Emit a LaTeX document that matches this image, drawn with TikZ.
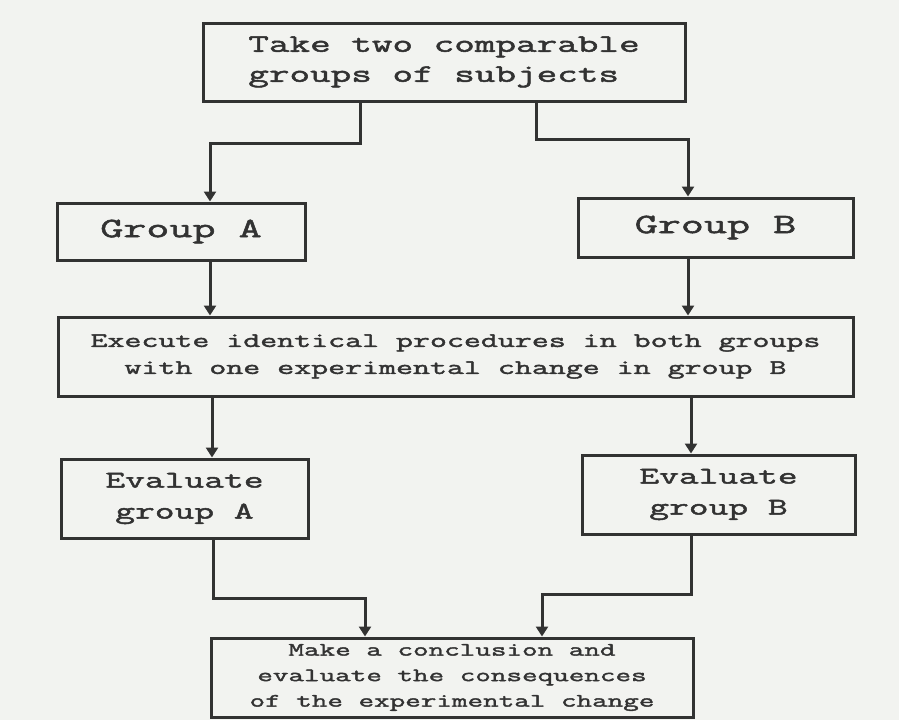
\documentclass[tikz,border=0pt]{standalone}
\usepackage{fontspec}
\usepackage{xcolor}
\usepackage{tikz}
\usetikzlibrary{positioning, arrows.meta, calc}
\newfontfamily\typefont[FakeStretch=1.6, FakeBold=2]{Latin Modern Mono}
\newcommand{\boxfont}[2]{\typefont\fontsize{#1}{#2}\selectfont}
\definecolor{paper}{RGB}{242,243,240}
\definecolor{ink}{RGB}{50,50,50}

\begin{document}
\begin{tikzpicture}[
    x=1pt, y=-1pt,
    flowbox/.style={draw=ink, line width=3pt, rectangle, inner sep=0pt, align=center, text=ink},
    flowarrow/.style={draw=ink, line width=3pt, -{Triangle[width=12pt, length=10pt]}}
]
\useasboundingbox[fill=paper] (0,0) rectangle (899,720);

% Start
\node[flowbox, align=left, minimum width=482pt, minimum height=78pt, font=\boxfont{25}{30}] (Take) at (444,62) {Take two comparable\\groups of subjects};

% Groups
\node[flowbox, minimum width=248pt, minimum height=57pt, font=\boxfont{28}{30}] (GroupA) at (181,231.5) {Group A};
\node[flowbox, minimum width=275pt, minimum height=59pt, font=\boxfont{28}{30}] (GroupB) at (715.5,227.5) {Group B};

% Procedure
\node[flowbox, minimum width=795pt, minimum height=79pt, font=\boxfont{20.6}{27}] (Execute) at (455.5,356.5) {Execute identical procedures in both groups\\with one experimental change in group B};

% Evaluation
\node[flowbox, minimum width=247pt, minimum height=79pt, font=\boxfont{24}{31}] (EvalA) at (184.5,498.5) {Evaluate\\group A};
\node[flowbox, minimum width=273pt, minimum height=79pt, font=\boxfont{24}{31}] (EvalB) at (718.5,494.5) {Evaluate\\group B};

% Conclusion
\node[flowbox, minimum width=482pt, minimum height=79pt, font=\boxfont{18.9}{25.5}] (Conclusion) at (452,677.5) {Make a conclusion and\\evaluate the consequences\\of the experimental change};

% Connections
\draw[flowarrow] ([xshift=-84pt]Take.south) -- ++(0,41) -| ([xshift=29pt]GroupA.north);
\draw[flowarrow] ([xshift=92pt]Take.south) -- ++(0,37) -| ([xshift=-27.5pt]GroupB.north);
\draw[flowarrow] ([xshift=29pt]GroupA.south) -- ([xshift=29pt]GroupA.south |- Execute.north);
\draw[flowarrow] ([xshift=-27.5pt]GroupB.south) -- ([xshift=-27.5pt]GroupB.south |- Execute.north);
\draw[flowarrow] ([xshift=27.5pt]EvalA.north |- Execute.south) -- ([xshift=27.5pt]EvalA.north);
\draw[flowarrow] ([xshift=-27.5pt]EvalB.north |- Execute.south) -- ([xshift=-27.5pt]EvalB.north);
\draw[flowarrow] ([xshift=28.5pt]EvalA.south) -- ++(0,59) -| ([xshift=-87pt]Conclusion.north);
\draw[flowarrow] ([xshift=-27.5pt]EvalB.south) -- ++(0,59) -| ([xshift=90pt]Conclusion.north);

\end{tikzpicture}
\end{document}
